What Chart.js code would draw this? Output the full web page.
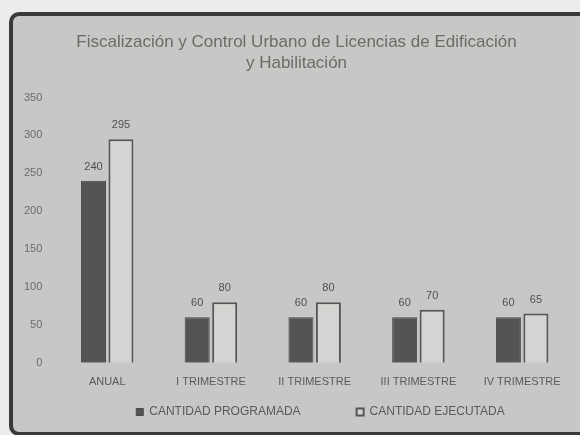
<!DOCTYPE html>
<html>
<head>
<meta charset="utf-8">
<script src="https://cdn.jsdelivr.net/npm/chart.js@4"></script>
<style>
  html, body { margin: 0; padding: 0; background: #ececec; overflow: hidden; }
  #frame {
    position: absolute; left: 9px; top: 12px; width: 600px; height: 424px;
    border: 4px solid #3a3a3a; border-radius: 10px; background: #c7c7c5;
    box-sizing: border-box; overflow: hidden;
  }
  #chart { display: block; }
</style>
</head>
<body>
<div id="frame"><canvas id="chart" width="570" height="416"></canvas></div>
<script>
// datos del gráfico
const categorias = ['ANUAL', 'I TRIMESTRE', 'II TRIMESTRE', 'III TRIMESTRE', 'IV TRIMESTRE'];
const programada = [240, 60, 60, 60, 60];
const ejecutada = [295, 80, 80, 70, 65];
const tituloLineas = ['Fiscalización y Control Urbano de Licencias de Edificación', 'y Habilitación'];

const fuente = '"Liberation Sans", Arial, sans-serif';

// etiquetas de valor encima de cada barra
const etiquetasValor = {
    id: 'etiquetasValor',
    afterDatasetsDraw(chart) {
        const ctx = chart.ctx;
        ctx.save();
        ctx.font = '11px ' + fuente;
        ctx.fillStyle = '#4f4f4f';
        ctx.textAlign = 'center';
        ctx.textBaseline = 'middle';
        chart.data.datasets.forEach((ds, i) => {
            chart.getDatasetMeta(i).data.forEach((bar, j) => {
                ctx.fillText(ds.data[j], bar.x, bar.y - 14);
            });
        });
        ctx.restore();
    }
};

// mover la leyenda un poco a la derecha
const moverLeyenda = {
    id: 'moverLeyenda',
    afterLayout(chart) {
        if (chart.legend) {
            chart.legend.left += 24;
            chart.legend.right += 24;
        }
    }
};

new Chart(document.getElementById('chart'), {
    type: 'bar',
    data: {
        labels: categorias,
        datasets: [{
            label: 'CANTIDAD PROGRAMADA',
            data: programada,
            backgroundColor: '#545454',
            borderColor: '#484848',
            borderWidth: 1,
            categoryPercentage: 0.53,
            barPercentage: 0.91
        }, {
            label: 'CANTIDAD EJECUTADA',
            data: ejecutada,
            backgroundColor: '#d4d4d2',
            borderColor: '#575757',
            borderWidth: 2,
            categoryPercentage: 0.53,
            barPercentage: 0.91
        }]
    },
    options: {
        responsive: false,
        animation: false,
        layout: { padding: { left: 6, right: 9, top: 0, bottom: 4 } },
        plugins: {
            title: {
                display: true,
                text: tituloLineas,
                color: '#6a6c68',
                font: { size: 17, family: fuente, weight: 'normal', lineHeight: 1.22 },
                padding: { top: 16, bottom: 24 }
            },
            legend: {
                position: 'bottom',
                labels: {
                    color: '#5a5a5a',
                    boxWidth: 7,
                    boxHeight: 7,
                    padding: 8,
                    font: { size: 12, family: fuente },
                    generateLabels(chart) {
                        const items = Chart.defaults.plugins.legend.labels.generateLabels(chart);
                        items[0].text += '\u2003\u2003\u2003\u2003';
                        return items;
                    }
                }
            },
            tooltip: { enabled: false }
        },
        scales: {
            x: {
                grid: { display: false },
                border: { display: false },
                ticks: {
                    color: '#5a5a5a',
                    font: { size: 11, family: fuente },
                    padding: 5
                },
                afterFit(scale) { scale.height += 4; }
            },
            y: {
                min: 0,
                max: 350,
                ticks: {
                    stepSize: 50,
                    color: '#6a6a6a',
                    font: { size: 11, family: fuente },
                    padding: 5
                },
                grid: { display: false },
                border: { display: false }
            }
        }
    },
    plugins: [etiquetasValor, moverLeyenda]
});
</script>
</body>
</html>
